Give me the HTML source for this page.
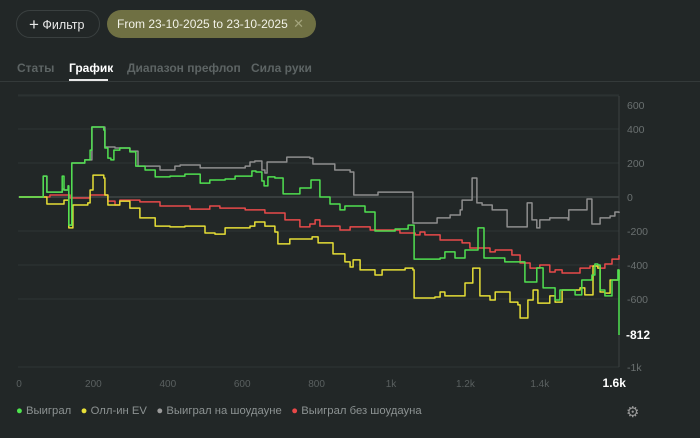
<!DOCTYPE html>
<html><head><meta charset="utf-8">
<style>
body{margin:0;width:700px;height:438px;background:#222727;font-family:"Liberation Sans",sans-serif;overflow:hidden;position:relative;color:#ddd}
.btn{position:absolute;top:10px;height:28px;border-radius:14px;font-size:12.5px;line-height:28px;box-sizing:border-box;white-space:nowrap}
.tab{position:absolute;top:61px;font-size:12px;font-weight:bold;color:#5d6464}
</style></head><body>
<div class="btn" style="left:16px;width:84px;border:1px solid #3a4040;color:#e8e8e8;padding-left:12px"><span style="font-size:17px;font-weight:300;vertical-align:-1px">+</span> Фильтр</div>
<div class="btn" style="left:107px;width:209px;background:#6f7043;color:#f2f2e8;padding-left:10px;font-size:12px">From 23-10-2025 to 23-10-2025 <span style="position:absolute;right:12px;color:#a3a47c;font-size:13px">✕</span></div>
<div class="tab" style="left:17px">Статы</div>
<div class="tab" style="left:69px;color:#fff">График</div>
<div style="position:absolute;left:69px;top:79px;width:39px;height:2px;background:#e8e8e8"></div>
<div class="tab" style="left:127px">Диапазон префлоп</div>
<div class="tab" style="left:251px">Сила руки</div>
<div style="position:absolute;left:0;top:81px;width:700px;height:1px;background:#343a3a"></div>
<svg id="chart" width="700" height="438" style="position:absolute;left:0;top:0"></svg>
<div style="position:absolute;left:16px;top:405px;font-size:11.3px;color:#8c9292;white-space:nowrap">
<span><span style="color:#4ee44e">●</span> Выиграл</span>&nbsp;&nbsp;
<span><span style="color:#e8e038">●</span> Олл-ин EV</span>&nbsp;&nbsp;
<span><span style="color:#9a9a9a">●</span> Выиграл на шоудауне</span>&nbsp;&nbsp;
<span><span style="color:#e84848">●</span> Выиграл без шоудауна</span>
</div>
<div style="position:absolute;left:626px;top:403px;font-size:15px;color:#999">⚙</div>
<script>
const xTicks=[0,200,400,600,800,1000,1200,1400,1600];
const xTickLabels=["0","200","400","600","800","1k","1.2k","1.4k","1.6k"];
const yTicks=[600,400,200,0,-200,-400,-600,-1000];
const yTickLabels=["600","400","200","0","-200","-400","-600","-1k"];
const lastValue=-812;
const wonHands=[0,65,65,75,75,116,116,121,132,134,142,142,177,191,196,228,231,239,247,255,271,298,314,339,366,406,446,487,513,554,581,626,637,653,659,669,688,710,755,785,809,836,863,876,930,957,1011,1046,1062,1062,1132,1145,1172,1199,1226,1234,1245,1250,1306,1325,1360,1387,1392,1400,1409,1441,1454,1495,1513,1540,1548,1556,1562,1575,1594,1610,1613];
const wonValues=[0,0,123,123,29,47,123,41,65,-165,-165,200,218,276,412,394,288,229,218,276,288,265,182,159,118,123,135,82,100,106,123,153,147,94,65,118,112,18,53,100,0,-41,-76,-53,-88,-200,-188,-165,-165,-365,-359,-323,-359,-312,-312,-182,-182,-359,-382,-382,-500,-500,-417,-417,-535,-606,-547,-576,-488,-459,-394,-400,-547,-582,-488,-429,-812];
const evHands=[0,65,75,121,132,134,145,145,185,191,199,228,231,239,255,271,298,325,366,406,446,500,527,554,621,634,661,688,696,728,788,804,844,876,890,898,917,957,976,1038,1059,1062,1118,1132,1145,1172,1199,1220,1234,1239,1266,1280,1320,1341,1347,1360,1368,1382,1395,1427,1441,1460,1508,1521,1543,1556,1562,1575,1589,1613];
const evValues=[0,0,-41,-18,-18,-182,-182,-47,-35,41,129,112,12,-47,-47,-24,-65,-123,-171,-176,-171,-212,-218,-182,-171,-147,-171,-206,-276,-247,-235,-270,-335,-382,-412,-370,-429,-459,-429,-418,-429,-594,-588,-559,-582,-582,-506,-418,-418,-582,-606,-559,-618,-635,-712,-712,-606,-547,-624,-582,-618,-547,-535,-576,-406,-418,-559,-565,-488,-429];
const sdHands=[0,65,65,75,75,116,121,132,134,142,142,177,196,231,231,258,298,320,379,419,433,487,608,621,634,653,661,667,715,720,782,790,836,849,890,900,957,965,1059,1059,1124,1159,1186,1191,1212,1218,1229,1231,1245,1272,1312,1360,1366,1374,1379,1392,1400,1427,1476,1478,1516,1527,1540,1562,1589,1602,1613];
const sdValues=[0,0,123,123,29,47,41,65,-165,-165,200,218,412,412,294,288,270,182,159,182,188,171,182,206,212,159,141,206,206,235,229,194,194,159,147,12,12,29,29,-153,-123,-106,-76,-18,-18,112,112,-35,-47,-76,-176,-176,-35,-35,-135,-182,-135,-123,-135,-76,-76,-12,-159,-123,-112,-88,-94];
const nsdHands=[0,83,137,191,239,258,271,325,379,460,513,540,608,661,715,755,782,796,809,863,890,944,1003,1024,1065,1078,1091,1132,1191,1212,1266,1280,1325,1347,1374,1400,1427,1441,1460,1508,1535,1562,1575,1594,1613];
const nsdValues=[0,12,-6,12,-24,-47,-18,-29,-53,-71,-53,-65,-76,-94,-135,-176,-159,-135,-171,-194,-176,-194,-194,-212,-223,-206,-223,-253,-270,-300,-323,-312,-341,-388,-418,-400,-441,-429,-447,-418,-406,-418,-394,-365,-341];

const svg=document.getElementById('chart');
const NS='http://www.w3.org/2000/svg';
const X=h=>19+h*0.372;
const Y=v=>197-v*0.17;
function mk(tag,attrs){const e=document.createElementNS(NS,tag);for(const k in attrs)e.setAttribute(k,attrs[k]);svg.appendChild(e);return e;}
yTicks.forEach((v,i)=>{
  const g=mk('line',{x1:18,x2:619,y1:Y(v),y2:Y(v),stroke:v===0?'#4e5454':'#2f3535','stroke-width':1});
  
  
  const t=mk('text',{x:627,y:Math.max(Y(v),105)+4,fill:'#6a7070','font-size':10.5,'font-family':'Liberation Sans'});
  t.textContent=yTickLabels[i];
  
  
});
const topLine=mk('line',{x1:18,x2:619,y1:96,y2:96,stroke:'#2a3030'});


const ax=mk('line',{x1:619,x2:619,y1:96,y2:367,stroke:'#3c4242'});


xTicks.forEach((h,i)=>{
  const last=i===xTicks.length-1;
  const t=mk('text',{x:X(h),y:387,fill:last?'#fff':'#5a6060','font-size':last?12:10,'font-weight':last?'bold':'normal','text-anchor':'middle','font-family':'Liberation Sans'});
  t.textContent=xTickLabels[i];
  
  
});
function series(hs,vs,color,name){
  let d='M'+X(hs[0])+' '+Y(vs[0]);
  for(let i=1;i<hs.length;i++){d+=' H'+X(hs[i]).toFixed(1)+' V'+Y(vs[i]).toFixed(1);}
  const p=mk('path',{d:d,fill:'none',stroke:color,'stroke-width':1.5,'stroke-linejoin':'round'});
  
  
}
series(sdHands,sdValues,'#8e8e8e','line-showdown');
series(nsdHands,nsdValues,'#e84a4a','line-non-showdown');
series(evHands,evValues,'#e6de36','line-allin-ev');
series(wonHands,wonValues,'#50e050','line-won');
const lv=mk('text',{x:626,y:Y(lastValue)+4,fill:'#fff','font-size':12,'font-weight':'bold','font-family':'Liberation Sans'});
lv.textContent=String(lastValue);


</script>
</body></html>
